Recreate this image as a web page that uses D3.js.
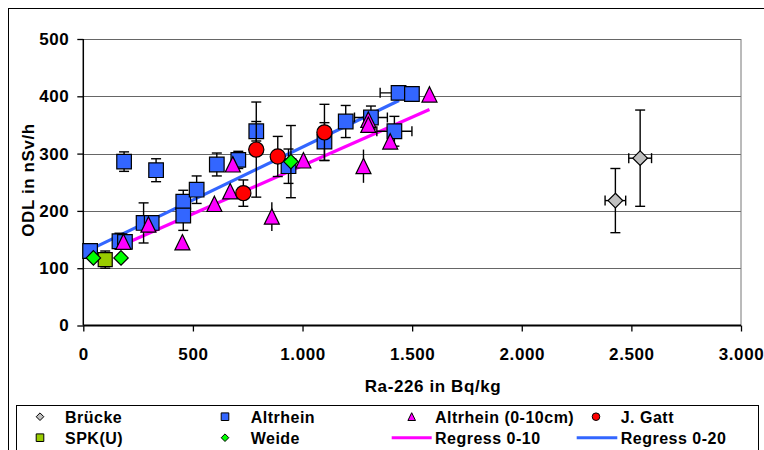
<!DOCTYPE html>
<html><head><meta charset="utf-8">
<script src="https://cdn.jsdelivr.net/npm/d3@7"></script>
<style>body{margin:0;background:#fff}svg{display:block}text{font-family:"Liberation Sans",Arial,sans-serif;font-weight:bold}</style>
</head><body><svg id="c" width="764" height="450"></svg>
<script>
// ---- data ----
const xTicks = [0, 500, 1000, 1500, 2000, 2500, 3000];
const yTicks = [0, 100, 200, 300, 400, 500];

const bruckeX = [2427, 2540];
const bruckeY = [218, 292];
const bruckeYErr = [56, 84];
const bruckeXErr = [47, 52];

const altrheinX = [31, 165, 190, 275, 312, 456, 456, 517, 186, 332, 609, 707, 789, 936, 1100, 1197, 1312, 1419, 1438, 1499];
const altrheinY = [130, 147, 146, 179, 179, 216, 192, 237, 286, 271, 281, 289, 339, 278, 321, 356, 363, 339, 406, 404];
const altrheinYErr = [8, 14, 10, 35, 12, 20, 26, 24, 17, 20, 20, 15, 17, 30, 33, 28, 20, 26, 0, 0];
const altrheinXErr = [0, 0, 0, 0, 0, 0, 0, 0, 0, 0, 0, 0, 0, 0, 0, 0, 75, 80, 84, 0];

const alt10X = [183, 297, 452, 598, 670, 682, 860, 1004, 1300, 1300, 1278, 1400, 1579];
const alt10Y = [146, 176, 145, 212, 234, 281, 190, 288, 359, 350, 278, 321, 403];
const alt10YErr = [0, 0, 0, 0, 12, 12, 25, 0, 12, 12, 29, 12, 0];

const gattX = [730, 789, 887, 1100];
const gattY = [231, 307, 295, 337];
const gattYErr = [23, 83, 35, 49];

const spkX = [100];
const spkY = [115];
const spkYErr = [15];

const weideX = [46, 172, 947];
const weideY = [118, 118, 286];
const weideYErr = [0, 0, 63];

const reg010X = [183, 1579];
const reg010Y = [141.4, 377.0];
const reg020X = [31, 1440];
const reg020Y = [132.4, 392.7];

const legendItems = [
  {name: "Brücke", type: "diamond", fill: "#C0C0C0"},
  {name: "Altrhein", type: "square", fill: "#3366FF"},
  {name: "Altrhein (0-10cm)", type: "triangle", fill: "#FF00FF"},
  {name: "J. Gatt", type: "circle", fill: "#FF0000"},
  {name: "SPK(U)", type: "square", fill: "#99CC00"},
  {name: "Weide", type: "diamond", fill: "#00FF00"},
  {name: "Regress 0-10", type: "line", fill: "#FF00FF"},
  {name: "Regress 0-20", type: "line", fill: "#3366FF"}
];

// ---- chart ----
const svg = d3.select("#c");
const x = d3.scaleLinear().domain([0, 3000]).range([83.3, 741]);
const y = d3.scaleLinear().domain([0, 500]).range([325.5, 39]);
const loc = d3.formatLocale({decimal: ",", thousands: ".", grouping: [3], currency: ["", ""]});
const fmt = loc.format(",");

// outer border
svg.append("rect").attr("x", 8.5).attr("y", 8.5).attr("width", 800).attr("height", 500)
  .attr("fill", "none").attr("stroke", "#000").attr("stroke-width", 1);

// grid
svg.append("g").selectAll("line").data(yTicks.filter(d => d > 0)).join("line")
  .attr("x1", x(0)).attr("x2", x(3000)).attr("y1", d => Math.round(y(d)) + 0.5).attr("y2", d => Math.round(y(d)) + 0.5)
  .attr("stroke", "#666").attr("stroke-width", 1);
svg.append("line").attr("x1", x(3000)).attr("x2", x(3000)).attr("y1", y(500)).attr("y2", y(0))
  .attr("stroke", "#777").attr("stroke-width", 1);

// axes
const ya = svg.append("g").attr("transform", `translate(${x(0)},0)`)
  .call(d3.axisLeft(y).tickValues(yTicks).tickSize(6).tickPadding(8).tickFormat(fmt));
const xa = svg.append("g").attr("transform", `translate(0,${y(0)})`)
  .call(d3.axisBottom(x).tickValues(xTicks).tickSize(6).tickPadding(16.5).tickFormat(fmt));
[ya, xa].forEach(a => {
  a.selectAll("text").attr("font-size", 17).attr("fill", "#000").style("letter-spacing", "0.6px")
    .attr("font-family", '"Liberation Sans",Arial,sans-serif').attr("font-weight", "bold");
  a.selectAll(".tick line").attr("stroke", "#000").attr("stroke-width", 1.3);
  a.select(".domain").attr("stroke", "#000");
});
ya.select(".domain").attr("d", `M0,${y(500)}V${y(0)}`).attr("stroke-width", 1.5);
xa.select(".domain").attr("d", `M${x(0)},0H${x(3000)}`).attr("stroke-width", 2);

// axis titles
svg.append("text").attr("x", 433).attr("y", 392).attr("text-anchor", "middle")
  .attr("font-size", 17).style("letter-spacing", "0.6px").text("Ra-226 in Bq/kg");
svg.append("text").attr("transform", "translate(34,180) rotate(-90)").attr("text-anchor", "middle")
  .attr("font-size", 17).style("letter-spacing", "0.6px").text("ODL in nSv/h");

// regression lines (under markers)
const line = d3.line().x(d => x(d[0])).y(d => y(d[1]));
svg.append("path").attr("d", line(d3.zip(reg010X, reg010Y))).attr("stroke", "#FF00FF").attr("stroke-width", 3.2).attr("fill", "none");
svg.append("path").attr("d", line(d3.zip(reg020X, reg020Y))).attr("stroke", "#3366FF").attr("stroke-width", 3.2).attr("fill", "none");

function symPath(type, s) {
  if (type === "square") return `M${-s},${-s}H${s}V${s}H${-s}Z`;
  if (type === "diamond") return `M0,${-s}L${s},0L0,${s}L${-s},0Z`;
  if (type === "triangle") return `M0,${-s * 1.05}L${s},${s * 1.0}L${-s},${s * 1.0}Z`;
  if (type === "circle") return `M${-s},0A${s},${s} 0 1,0 ${s},0A${s},${s} 0 1,0 ${-s},0Z`;
}

function series(xs, ys, yErr, xErr, type, fill, size, caps) {
  const g = svg.append("g");
  const pts = xs.map((v, i) => ({x: v, y: ys[i], ye: yErr ? yErr[i] : 0, xe: xErr ? xErr[i] : 0}));
  const eb = g.append("g").attr("stroke", "#000").attr("stroke-width", 1.4);
  pts.forEach(p => {
    if (p.ye > 0) {
      eb.append("line").attr("x1", x(p.x)).attr("x2", x(p.x)).attr("y1", y(p.y - p.ye)).attr("y2", y(p.y + p.ye));
      if (caps) {
        [p.y - p.ye, p.y + p.ye].forEach(v => eb.append("line").attr("x1", x(p.x) - 5).attr("x2", x(p.x) + 5).attr("y1", y(v)).attr("y2", y(v)));
      }
    }
    if (p.xe > 0) {
      eb.append("line").attr("x1", x(p.x - p.xe)).attr("x2", x(p.x + p.xe)).attr("y1", y(p.y)).attr("y2", y(p.y));
      [p.x - p.xe, p.x + p.xe].forEach(v => eb.append("line").attr("x1", x(v)).attr("x2", x(v)).attr("y1", y(p.y) - 5).attr("y2", y(p.y) + 5));
    }
  });
  g.append("g").selectAll("path").data(pts).join("path")
    .attr("transform", p => `translate(${x(p.x)},${y(p.y)})`)
    .attr("d", symPath(type, size)).attr("fill", fill).attr("stroke", "#000").attr("stroke-width", 1.2);
}

series(bruckeX, bruckeY, bruckeYErr, bruckeXErr, "diamond", "#C0C0C0", 7.3, true);
series(altrheinX, altrheinY, altrheinYErr, altrheinXErr, "square", "#3366FF", 7.3, true);
series(alt10X, alt10Y, alt10YErr, null, "triangle", "#FF00FF", 7.5, false);
series(gattX, gattY, gattYErr, null, "circle", "#FF0000", 7.6, true);
series(spkX, spkY, spkYErr, null, "square", "#99CC00", 7, true);
series(weideX, weideY, weideYErr, null, "diamond", "#00FF00", 7.2, true);

// legend
svg.append("rect").attr("x", 16.5).attr("y", 405.5).attr("width", 742).attr("height", 60)
  .attr("fill", "#fff").attr("stroke", "#000").attr("stroke-width", 1);
const colMarker = [40, 225, 411.7, 596];
const colText = [65, 250.7, 435, 620.7];
const lineSeg = [[391.7, 431.7], [576.7, 617.3]];
const rowY = [416.7, 437.7];
legendItems.forEach((it, i) => {
  const r = Math.floor(i / 4), c = i % 4;
  const lg = svg.append("g");
  if (it.type === "line") {
    const seg = lineSeg[c - 2];
    lg.append("line").attr("x1", seg[0]).attr("x2", seg[1]).attr("y1", rowY[r]).attr("y2", rowY[r])
      .attr("stroke", it.fill).attr("stroke-width", 3);
  } else {
    lg.append("path").attr("transform", `translate(${colMarker[c]},${rowY[r]})`)
      .attr("d", symPath(it.type, 3.8)).attr("fill", it.fill).attr("stroke", "#000").attr("stroke-width", 1);
  }
  lg.append("text").attr("x", colText[c]).attr("y", rowY[r] + 6).attr("font-size", 16)
    .style("letter-spacing", "0.5px").text(it.name);
});
</script></body></html>
